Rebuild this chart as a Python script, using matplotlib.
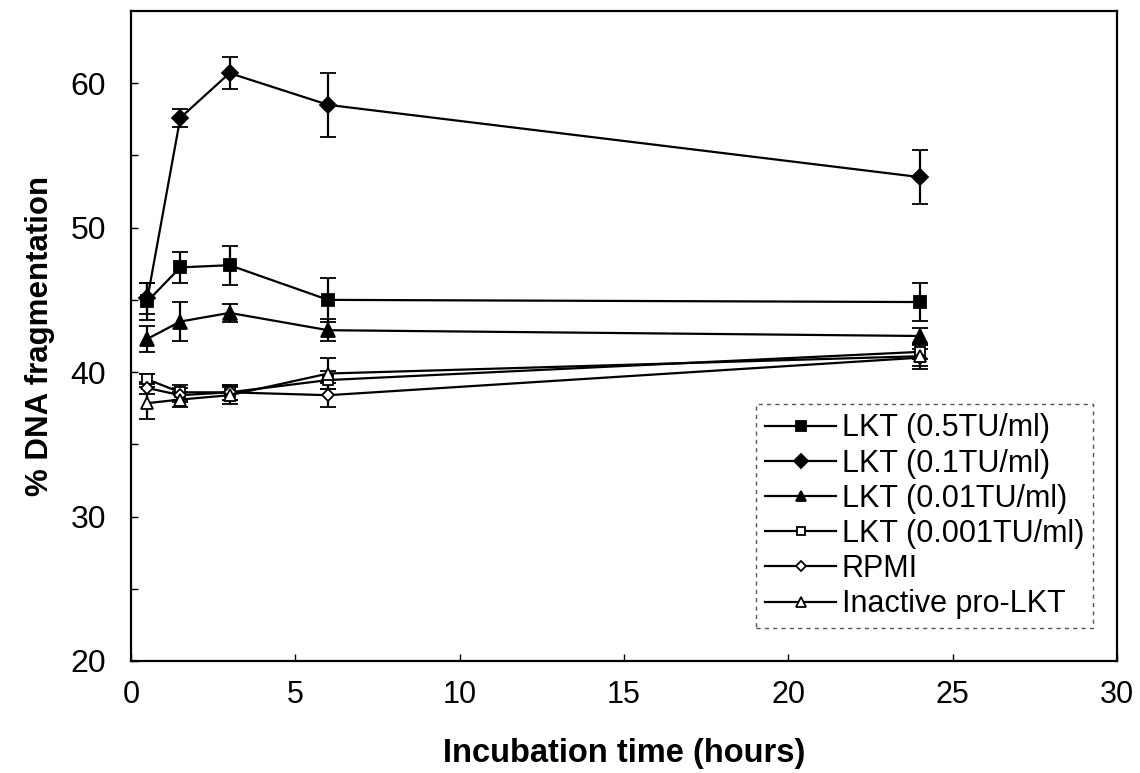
import numpy as np
import matplotlib.pyplot as plt
from matplotlib.lines import Line2D

# incubation times (hours)
hours = [0.5, 1.5, 3, 6, 24]

# % DNA fragmentation, mean and error for each treatment
lkt_05 = [44.9, 47.25, 47.4, 45.0, 44.85]
lkt_05_err = [1.3, 1.05, 1.35, 1.5, 1.3]
lkt_01 = [45.1, 57.6, 60.7, 58.5, 53.5]
lkt_01_err = [1.1, 0.6, 1.1, 2.2, 1.85]
lkt_001 = [42.3, 43.5, 44.1, 42.9, 42.5]
lkt_001_err = [0.9, 1.35, 0.6, 0.75, 0.55]
lkt_0001 = [39.5, 38.6, 38.6, 39.45, 41.4]
lkt_0001_err = [0.35, 0.5, 0.5, 0.6, 0.5]
rpmi = [38.9, 38.4, 38.6, 38.4, 41.0]
rpmi_err = [0.4, 0.5, 0.5, 0.85, 0.6]
inactive = [37.85, 38.1, 38.4, 39.9, 41.1]
inactive_err = [1.1, 0.5, 0.6, 1.1, 0.9]

labels = ['LKT (0.5TU/ml)', 'LKT (0.1TU/ml)', 'LKT (0.01TU/ml)',
          'LKT (0.001TU/ml)', 'RPMI', 'Inactive pro-LKT']

plt.rcParams['font.family'] = ['Liberation Sans', 'DejaVu Sans']

fig = plt.figure(figsize=(11.4, 7.73), dpi=100)
ax = fig.add_axes([0.1149, 0.1449, 0.8649, 0.8409])

series = [
    (lkt_05, lkt_05_err, 's', 'black', 8.5),
    (lkt_01, lkt_01_err, 'D', 'black', 8.5),
    (lkt_001, lkt_001_err, '^', 'black', 9.5),
    (lkt_0001, lkt_0001_err, 's', 'white', 7),
    (rpmi, rpmi_err, 'D', 'white', 6.5),
    (inactive, inactive_err, '^', 'white', 9),
]

handles = []
for (vals, err, mk, fc, ms), lab in zip(series, labels):
    ax.errorbar(hours, vals, yerr=err, color='black', lw=1.6,
                marker=mk, mfc=fc, mec='black', mew=1.3, ms=ms,
                capsize=6, capthick=1.6, elinewidth=1.6)
    # legend entries show only line + marker
    handles.append(Line2D([], [], color='black', lw=1.6, marker=mk, mfc=fc,
                          mec='black', mew=1.3, ms=ms * 0.8))

ax.set_xlim(0, 30)
ax.set_ylim(20, 65)
ax.set_xticks(np.arange(0, 31, 5))
ax.set_yticks(np.arange(20, 61, 10))
ax.set_yticks(np.arange(25, 65, 10), minor=True)
ax.tick_params(axis='both', which='both', direction='in', length=5, width=1)
ax.tick_params(axis='x', labelsize=22, pad=14)
ax.tick_params(axis='y', labelsize=23, pad=18)
for sp in ax.spines.values():
    sp.set_linewidth(1.6)

ax.set_xlabel('Incubation time (hours)', fontsize=23.5, fontweight='bold',
              labelpad=20)
ax.set_ylabel('% DNA fragmentation', fontsize=22.5, fontweight='bold')
ax.yaxis.set_label_coords(-0.077, 0.5)

leg = ax.legend(handles, labels, loc='lower right',
                bbox_to_anchor=(0.976, 0.05), fontsize=22,
                handlelength=2.3, handletextpad=0.2, labelspacing=0.17,
                borderpad=0.3, borderaxespad=0, fancybox=False,
                framealpha=1)
frame = leg.get_frame()
frame.set_edgecolor('#555555')
frame.set_linestyle((0, (3, 3)))
frame.set_linewidth(1)

fig.savefig('out.png', dpi=100)
